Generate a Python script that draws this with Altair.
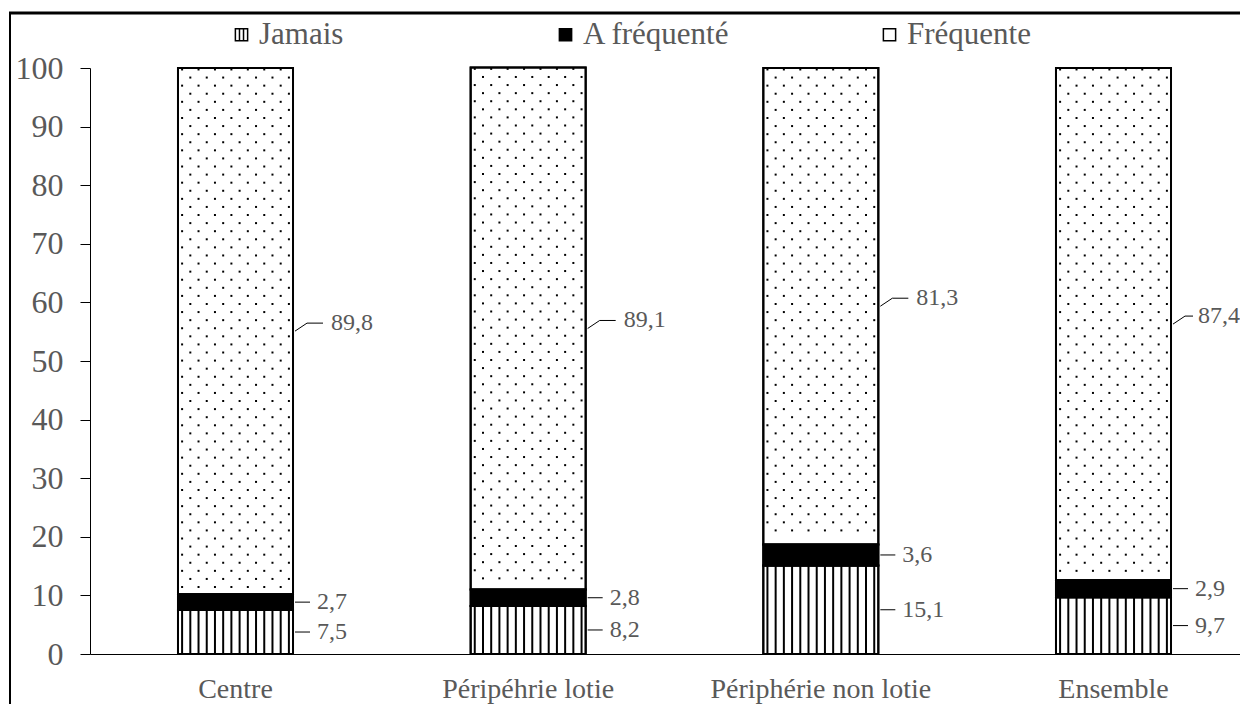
import altair as alt
import pandas as pd

categories = ["Centre", "Péripéhrie lotie", "Périphérie non lotie", "Ensemble"]
series = ["Jamais", "A fréquenté", "Fréquente"]
jamais = [7.5, 8.2, 15.1, 9.7]
a_frequente = [2.7, 2.8, 3.6, 2.9]
frequente = [89.8, 89.1, 81.3, 87.4]
y_ticks = [0, 10, 20, 30, 40, 50, 60, 70, 80, 90, 100]

rows = []
for i, c in enumerate(categories):
    for k, vals in enumerate([jamais, a_frequente, frequente]):
        rows.append({"cat": c, "series": series[k], "k": k, "value": vals[i]})
df = pd.DataFrame(rows)

FONT = "Liberation Serif"
GRAY = "#595959"

xscale = alt.Scale(paddingInner=0.607, paddingOuter=0.2682, align=0.5605)
yscale = alt.Scale(domain=[0, 100], nice=False, zero=True)


def xenc(**kw):
    return alt.X("cat:N", sort=categories, scale=xscale, title=None, **kw)


def yenc(field):
    return alt.Y(field, type="quantitative", scale=yscale, title=None,
                 axis=alt.Axis(values=y_ticks))


base = alt.Chart(df).transform_stack(
    stack="value", groupby=["cat"], as_=["y0", "y1"],
    sort=[alt.SortField("k", order="ascending")]
).transform_calculate(
    mid="(datum.y0 + datum.y1) / 2",
    lbl="replace(format(datum.value, '.1f'), '.', ',')"
)

legend = alt.Legend(
    title=None, orient="none", legendX=136, legendY=-49,
    direction="horizontal", columns=3, gridAlign="all", columnPadding=143,
    symbolType=alt.ExprRef(expr="datum.value === 'Jamais' ? 'M-1,-1H1V1H-1Z M-0.33,-1V1 M0.33,-1V1' : 'square'"),
    symbolSize=150, symbolStrokeColor="black", symbolStrokeWidth=1.5,
    labelFont=FONT, labelFontSize=31, labelColor=GRAY, labelOffset=2, padding=0,
)

bars = base.mark_bar(stroke="black", strokeWidth=2).encode(
    x=xenc(),
    y=yenc("y0"), y2="y1",
    fill=alt.Fill("series:N", sort=series,
                  scale=alt.Scale(domain=series, range=["white", "black", "white"]),
                  legend=legend),
)

stripes = base.transform_filter("datum.k == 0").transform_calculate(
    s="sequence(0, 14)"
).transform_flatten(["s"]).mark_bar(size=2, color="black").encode(
    x=xenc(),
    xOffset=alt.XOffset("s:O", scale=alt.Scale(paddingInner=0, paddingOuter=0)),
    y=yenc("y0"), y2="y1",
)

dots = base.transform_filter("datum.k == 2").transform_calculate(
    r="sequence(0, floor((datum.y1 - datum.y0) / 1.38))"
).transform_flatten(["r"]).transform_calculate(
    dy="datum.y1 - 0.25 - datum.r * 1.38",
    s="sequence(datum.r % 2, 14, 2)"
).transform_filter("datum.dy > datum.y0 + 0.4").transform_flatten(["s"]).mark_square(
    size=4, color="#000000", opacity=1
).encode(
    x=xenc(),
    xOffset=alt.XOffset("s:O", scale=alt.Scale(paddingInner=0, paddingOuter=0)),
    y=yenc("dy"),
)

outline = base.mark_bar(stroke="black", strokeWidth=2, fillOpacity=0, fill="white").encode(
    x=xenc(), y=yenc("y0"), y2="y1",
)

low = base.transform_filter("datum.k < 2")
high = base.transform_filter("datum.k == 2")

lead_low = low.mark_rule(color="black", strokeWidth=1, xOffset=2, x2Offset=17).encode(
    x=xenc(bandPosition=1), x2=alt.X2("cat", bandPosition=1), y=yenc("mid"),
)
lab_low = low.mark_text(align="left", baseline="middle", dx=24, font=FONT,
                        fontSize=24, color=GRAY).encode(
    x=xenc(bandPosition=1), y=yenc("mid"), text="lbl:N",
)

lead_high_d = high.mark_rule(color="black", strokeWidth=1, xOffset=2, x2Offset=14,
                             y2Offset=-8).encode(
    x=xenc(bandPosition=1), x2=alt.X2("cat", bandPosition=1),
    y=yenc("mid"), y2="mid",
)
lead_high_h = high.mark_rule(
    color="black", strokeWidth=1, xOffset=14,
    x2Offset=alt.ExprRef(expr="datum.cat === 'Ensemble' ? 22 : 30"), yOffset=-8
).encode(
    x=xenc(bandPosition=1), x2=alt.X2("cat", bandPosition=1), y=yenc("mid"),
)
lab_high = high.mark_text(
    align="left", baseline="middle",
    dx=alt.ExprRef(expr="datum.cat === 'Ensemble' ? 27 : 38"), dy=-8,
    font=FONT, fontSize=24, color=GRAY
).encode(
    x=xenc(bandPosition=1), y=yenc("mid"), text="lbl:N",
)

frame_data = pd.DataFrame({"z": [0]})
frame_left = alt.Chart(frame_data).mark_rule(color="black", strokeWidth=2).encode(
    x=alt.value(-80), y=alt.value(-55), y2=alt.value(700)
)
frame_top = alt.Chart(frame_data).mark_rule(color="black", strokeWidth=3).encode(
    x=alt.value(-81), x2=alt.value(1300), y=alt.value(-55)
)

chart = alt.layer(
    bars, stripes, dots, outline, lead_low, lab_low, lead_high_d, lead_high_h,
    lab_high, frame_left, frame_top
).properties(
    width=1150, height=586,
    autosize=alt.AutoSizeParams(type="none"),
    padding={"left": 82, "top": 60, "right": 0, "bottom": 50},
).configure(
    font=FONT,
).configure_axis(
    domainColor="black", tickColor="black", labelFont=FONT, labelColor=GRAY,
    grid=False, domainWidth=1, tickWidth=1,
).configure_axisY(
    labelFontSize=32, tickSize=10, labelPadding=17,
).configure_axisX(
    labelFontSize=28, labelAngle=0, ticks=False, tickSize=0, labelPadding=21,
    labelLimit=0,
).configure_legend(
    labelFont=FONT,
).configure_text(
    font=FONT,
).configure_view(stroke=None)

chart.save("out.html", embed_options={"renderer": "svg", "actions": False})
